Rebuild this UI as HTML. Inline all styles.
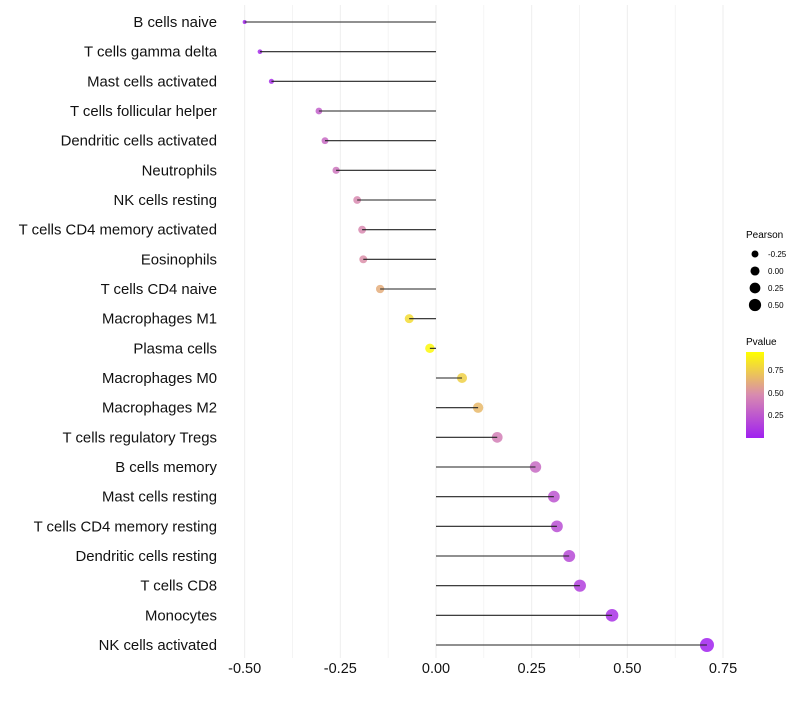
<!DOCTYPE html>
<html><head><meta charset="utf-8"><style>
body{margin:0;background:#fff;font-family:"Liberation Sans",sans-serif}
</style></head><body>
<svg id="chart" width="800" height="700" xmlns="http://www.w3.org/2000/svg" font-family="Liberation Sans, sans-serif">
<defs><linearGradient id="pg" x1="0" y1="1" x2="0" y2="0">
<stop offset="0" stop-color="#a020f0"/><stop offset="0.5" stop-color="#d88ab0"/><stop offset="1" stop-color="#ffff00"/></linearGradient></defs>
<g id="grid"></g>
<g id="pts"></g>
<g id="marks"></g>
<g id="labels"></g>
<g id="xt"></g>
<g id="lp">
<text x="746" y="238" font-size="10" fill="#000">Pearson</text>
</g>
<g>
<text x="746" y="345" font-size="10" fill="#000">Pvalue</text>
<rect x="746" y="352" width="18" height="86" fill="url(#pg)"/>
<text x="768" y="373" font-size="8">0.75</text>
<text x="768" y="396" font-size="8">0.50</text>
<text x="768" y="418" font-size="8">0.25</text>
</g>
</svg>
<script>
const categories=["B cells naive","T cells gamma delta","Mast cells activated","T cells follicular helper","Dendritic cells activated","Neutrophils","NK cells resting","T cells CD4 memory activated","Eosinophils","T cells CD4 naive","Macrophages M1","Plasma cells","Macrophages M0","Macrophages M2","T cells regulatory  Tregs ","B cells memory","Mast cells resting","T cells CD4 memory resting","Dendritic cells resting","T cells CD8","Monocytes","NK cells activated"];
const pearson=[-0.50,-0.46,-0.43,-0.306,-0.29,-0.261,-0.206,-0.193,-0.19,-0.146,-0.07,-0.016,0.068,0.11,0.16,0.26,0.308,0.316,0.348,0.376,0.46,0.708];
const pvalue=[0.02,0.05,0.07,0.3,0.35,0.4,0.5,0.5,0.52,0.65,0.85,0.97,0.8,0.7,0.45,0.35,0.25,0.22,0.2,0.15,0.08,0.01];
const xTicks=[-0.5,-0.25,0,0.25,0.5,0.75];
const xTickLabels=["-0.50","-0.25","0.00","0.25","0.50","0.75"];
const legendSizes=[-0.25,0,0.25,0.5];
const legendLabels=["-0.25","0.00","0.25","0.50"];
const NS="http://www.w3.org/2000/svg";
const X=v=>436+v*382.7;
const Y=i=>22+i*(623/21);
const R=v=>Math.sqrt(Math.max(1,4+(v+0.5)*37.5));
function lerp(a,b,t){return a.map((x,k)=>Math.round(x+(b[k]-x)*t));}
function col(p){const s=[[160,32,240],[216,138,176],[255,255,0]];const c=p<0.5?lerp(s[0],s[1],p/0.5):lerp(s[1],s[2],(p-0.5)/0.5);return `rgb(${c})`;}
function mk(t,a,parent){const e=document.createElementNS(NS,t);for(const k in a)e.setAttribute(k,a[k]);document.getElementById(parent).appendChild(e);return e;}
for(let v=-0.5;v<=0.751;v+=0.125){
 const g=mk('line',{x1:X(v),x2:X(v),y1:5,y2:658,stroke:'#eeeeee','stroke-width':Math.abs((v*4)%1)<0.01?1:0.6},'grid');
 
 
}
categories.forEach((c,i)=>{
 const p=mk('circle',{cx:X(pearson[i]),cy:Y(i),r:R(pearson[i]),fill:col(pvalue[i]),'fill-opacity':0.85},'pts');
 
 
 const l=mk('line',{x1:X(0),x2:X(pearson[i]),y1:Y(i),y2:Y(i),stroke:'#222','stroke-width':1.1},'marks');
 
 
 const t=mk('text',{x:217,y:Y(i)+5,'text-anchor':'end','font-size':14.9,fill:'#111'},'labels');
 t.textContent=c;
 
 
});
xTicks.forEach((v,i)=>{
 const t=mk('text',{x:X(v),y:673,'text-anchor':'middle','font-size':14.5,fill:'#111'},'xt');
 t.textContent=xTickLabels[i];
 
 
});
legendSizes.forEach((v,i)=>{
 const y=254+i*17;
 const c=mk('circle',{cx:755,cy:y,r:R(v)*0.95,fill:'#000'},'lp');
 
 
 const t=mk('text',{x:768,y:y+3,'font-size':8},'lp');
 t.textContent=legendLabels[i];
 
 
});
</script>
</body></html>
